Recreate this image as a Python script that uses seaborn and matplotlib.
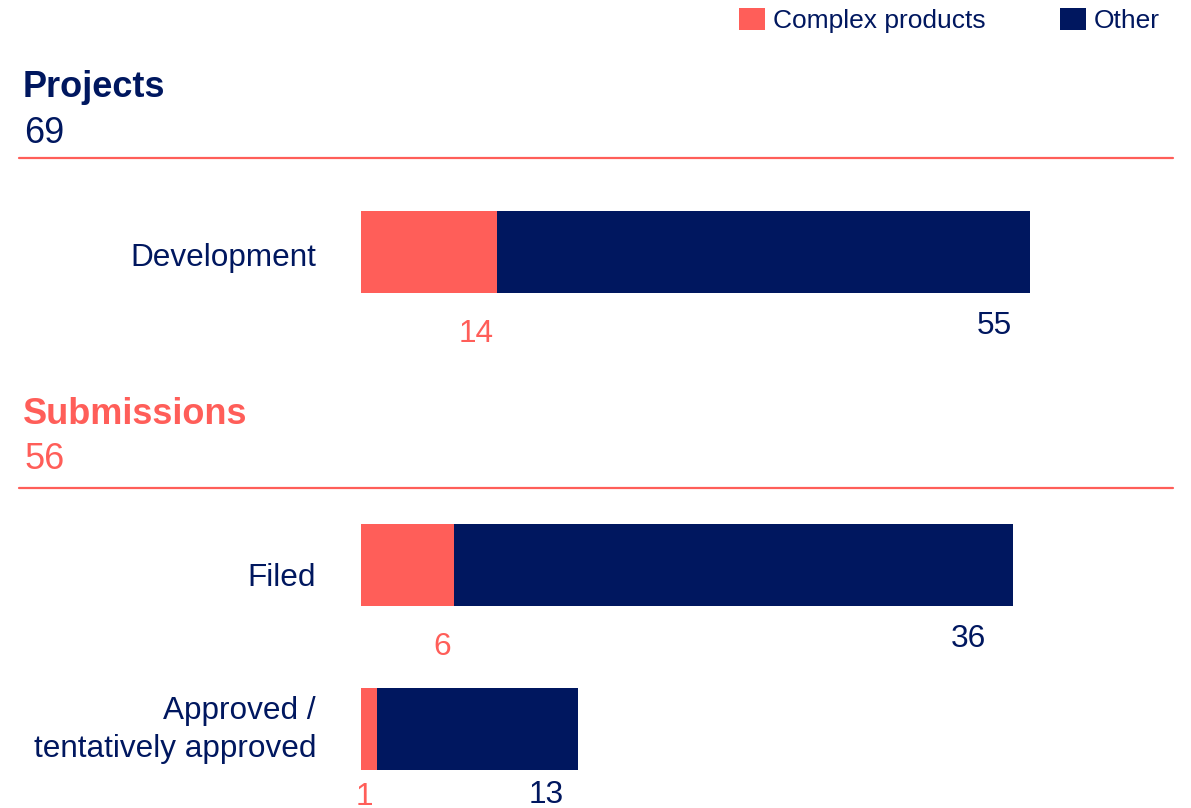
import numpy as np
import pandas as pd
import seaborn as sns
import matplotlib.pyplot as plt
from matplotlib.patches import Patch
from matplotlib.lines import Line2D

W, H = 1191, 808

# ---- data ----
proj_cats = ["Development"]
proj_complex = [14]
proj_other = [55]

sub_cats = ["Filed", "Approved /\ntentatively approved"]
sub_complex = [6, 1]
sub_other = [36, 13]

section_titles = ["Projects", "Submissions"]
section_totals = [69, 56]
legend_labels = ["Complex products", "Other"]

RED = "#FF5E59"
NAVY = "#00175F"
FS = 22.7

sns.set_theme(style="white")
plt.rcParams['font.family'] = ['Liberation Sans', 'DejaVu Sans']

fig = plt.figure(figsize=(W / 100, H / 100), dpi=100)


def fx(px):
    return px / W


def fy(py):
    return 1 - py / H


def make_ax(top_px, bottom_px):
    return fig.add_axes([fx(361), fy(bottom_px), fx(1173) - fx(361), (bottom_px - top_px) / H])


def draw_panel(ax, cats, comp, other, xmax, ylim, cat_drop, red_drop, navy_drop, navy_dx):
    df = pd.DataFrame({"cat": cats, "complex": comp, "other": other})
    df["total"] = df["complex"] + df["other"]
    sns.barplot(data=df, x="total", y="cat", color=NAVY, width=0.5, saturation=1,
                orient="h", ax=ax, edgecolor="none")
    sns.barplot(data=df, x="complex", y="cat", color=RED, width=0.5, saturation=1,
                orient="h", ax=ax, edgecolor="none")
    ax.set_xlim(0, xmax)
    ax.set_ylim(*ylim)
    ax.set_xlabel("")
    ax.set_ylabel("")
    ax.set_xticks([])
    ax.set_yticklabels([])
    ax.tick_params(axis="y", length=0)
    for s in ax.spines.values():
        s.set_visible(False)
    for i, row in df.iterrows():
        # category label (right-aligned left of the bars)
        ax.annotate(row["cat"], xy=(0, i), xycoords=("axes fraction", "data"),
                    xytext=(-45, -cat_drop[i]), textcoords="offset pixels",
                    ha="right", va="baseline", color=NAVY, fontsize=FS,
                    linespacing=1.35, annotation_clip=False)
        ax.annotate(str(row["complex"]), xy=(row["complex"], i + 0.25),
                    xytext=(-3, -red_drop[i]), textcoords="offset pixels",
                    ha="right", va="baseline", color=RED, fontsize=FS,
                    annotation_clip=False)
        ax.annotate(str(row["other"]), xy=(row["total"], i + 0.25),
                    xytext=(-navy_dx[i], -navy_drop[i]), textcoords="offset pixels",
                    ha="right", va="baseline", color=NAVY, fontsize=FS,
                    annotation_clip=False)
    ax.patch.set_alpha(0)


ax1 = make_ax(169.5, 333.5)
draw_panel(ax1, proj_cats, proj_complex, proj_other, 812 / 9.696, (0.5, -0.5),
           cat_drop=[14.5], red_drop=[50], navy_drop=[41], navy_dx=[18])

ax2 = make_ax(483, 811)
draw_panel(ax2, sub_cats, sub_complex, sub_other, 812 / 15.52, (1.5, -0.5),
           cat_drop=[21, 28], red_drop=[49, 35], navy_drop=[41, 33], navy_dx=[27, 15])

# section headers
title_cols = [NAVY, RED]
title_base = [97, 424]
total_base = [143, 469]
line_y = [158, 488]
for t, tot, c, tb, nb, ly in zip(section_titles, section_totals, title_cols, title_base, total_base, line_y):
    fig.text(fx(23), fy(tb), t, fontsize=26, fontweight="bold", color=c, va="baseline", ha="left")
    fig.text(fx(24), fy(nb), str(tot), fontsize=26, color=c, va="baseline", ha="left")
    fig.add_artist(Line2D([fx(19), fx(1173)], [fy(ly), fy(ly)], color=RED, lw=1.6,
                          transform=fig.transFigure))

# legend
handles = [Patch(facecolor=RED, edgecolor="none", label=legend_labels[0]),
           Patch(facecolor=NAVY, edgecolor="none", label=legend_labels[1])]
fig.legend(handles=handles, loc="upper right", bbox_to_anchor=(fx(1160), fy(8)), ncol=2,
           frameon=False, fontsize=19, handlelength=1.0, handleheight=0.9, handletextpad=0.3,
           columnspacing=2.8, borderpad=0, borderaxespad=0, labelcolor=NAVY)

fig.savefig("out.png", dpi=100)
